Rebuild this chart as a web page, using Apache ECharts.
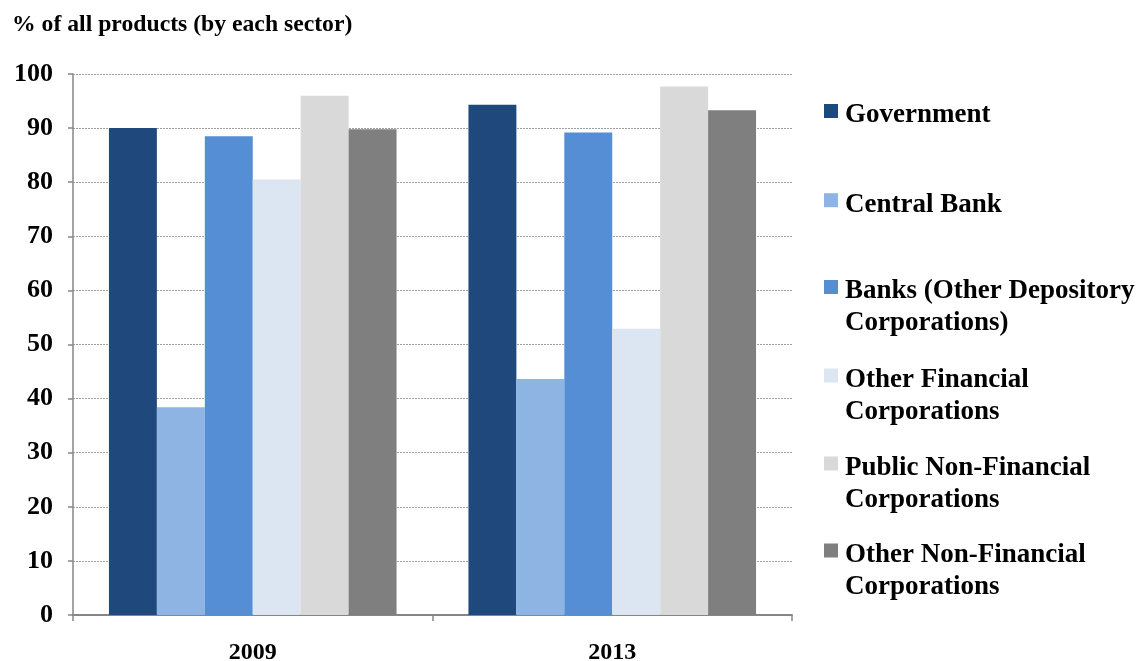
<!DOCTYPE html>
<html>
<head>
<meta charset="utf-8">
<script src="https://cdn.jsdelivr.net/npm/echarts@6/dist/echarts.min.js"></script>
<style>
  html, body { margin: 0; padding: 0; background: #ffffff; }
  #chart { width: 1139px; height: 661px; }
</style>
</head>
<body>
<div id="chart"></div>
<script>
// Share of products covered, by institutional sector (%)
const categories = ['2009', '2013'];
const seriesNames = [
  'Government',
  'Central Bank',
  'Banks (Other Depository Corporations)',
  'Other Financial Corporations',
  'Public Non-Financial Corporations',
  'Other Non-Financial Corporations'
];
// Legend text, split into the lines shown beside the plot
const legendLines = [
  ['Government'],
  ['Central Bank'],
  ['Banks (Other Depository', 'Corporations)'],
  ['Other Financial', 'Corporations'],
  ['Public Non-Financial', 'Corporations'],
  ['Other Non-Financial', 'Corporations']
];
const government = [90.0, 94.3];
const centralBank = [38.4, 43.6];
const banks = [88.5, 89.2];
const otherFinancial = [80.5, 52.9];
const publicNonFinancial = [96.0, 97.7];
const otherNonFinancial = [89.8, 93.3];
const yTicks = [0, 10, 20, 30, 40, 50, 60, 70, 80, 90, 100];

const values = [government, centralBank, banks, otherFinancial, publicNonFinancial, otherNonFinancial];
const colors = ['#1F497D', '#8EB4E3', '#558ED5', '#DCE6F2', '#D9D9D9', '#7F7F7F'];

const FONT = '"Liberation Serif", "Times New Roman", serif';
const LEGEND_LH = 32;     // line height of legend text
const TEXT_DROP = 4.5;    // first text line sits a little below the swatch centre
const swatchCentres = [110.5, 199.7, 286.5, 375, 463, 550];

const chart = echarts.init(document.getElementById('chart'), null, { renderer: 'canvas' });

// One legend block per sector so each swatch lines up with the first text line.
// A spacer line above the text shifts the (centred) block so that line 1 meets the swatch.
const legends = seriesNames.map((name, i) => {
  const lines = legendLines[i];
  const spacer = (lines.length - 1) * LEGEND_LH + 2 * TEXT_DROP;
  const blockHeight = spacer + lines.length * LEGEND_LH;
  return {
    show: true,
    orient: 'vertical',
    left: 824,
    top: swatchCentres[i] - blockHeight / 2 + spacer / 2,
    padding: 0,
    itemWidth: 14,
    itemHeight: 14,
    itemGap: 0,
    icon: 'rect',
    selectedMode: false,
    data: [name],
    formatter: () => '{s| }\n' + lines.map(l => '{t|' + l + '}').join('\n'),
    textStyle: {
      color: '#000000',
      rich: {
        s: { fontSize: 1, lineHeight: spacer },
        t: {
          fontFamily: FONT,
          fontWeight: 'bold',
          fontSize: 27,
          lineHeight: LEGEND_LH,
          color: '#000000',
          padding: [0, 0, 0, 2]
        }
      }
    }
  };
});

chart.setOption({
  animation: false,
  backgroundColor: '#ffffff',
  title: {
    text: '% of all products (by each sector)',
    left: 12,
    top: 13,
    padding: 0,
    textStyle: {
      fontFamily: FONT,
      fontWeight: 'bold',
      fontSize: 23.7,
      color: '#000000'
    }
  },
  legend: legends,
  grid: {
    left: 73,
    right: 347,
    top: 74,
    bottom: 46,
    containLabel: false,
    outerBoundsMode: 'none'
  },
  xAxis: {
    type: 'category',
    data: categories,
    axisLine: { show: true, lineStyle: { color: '#868686', width: 2 } },
    axisTick: { show: true, alignWithLabel: false, length: 6, lineStyle: { color: '#868686', width: 1.5 } },
    axisLabel: {
      margin: 26,
      fontFamily: FONT,
      fontWeight: 'bold',
      fontSize: 24,
      color: '#000000'
    },
    splitLine: { show: false }
  },
  yAxis: {
    type: 'value',
    min: yTicks[0],
    max: yTicks[yTicks.length - 1],
    interval: yTicks[1] - yTicks[0],
    axisLine: { show: true, lineStyle: { color: '#868686', width: 1.5 } },
    axisTick: { show: true, length: 5, lineStyle: { color: '#868686', width: 1.5 } },
    axisLabel: {
      margin: 20,
      fontFamily: FONT,
      fontWeight: 'bold',
      fontSize: 26,
      color: '#000000',
      padding: [3, 0, 0, 0],
      formatter: (v) => String(v)
    },
    splitLine: { show: true, lineStyle: { color: '#a0a0a0', type: [2, 1], width: 1 } }
  },
  series: seriesNames.map((name, i) => ({
    name: name,
    type: 'bar',
    data: values[i],
    barGap: '0%',
    barCategoryGap: '20%',
    itemStyle: { color: colors[i] },
    emphasis: { disabled: true }
  }))
});
</script>
</body>
</html>
